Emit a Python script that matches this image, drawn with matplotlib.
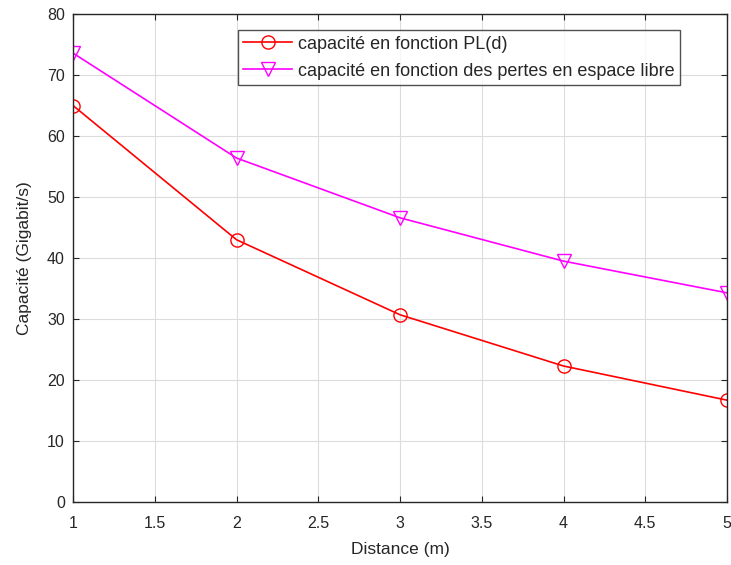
import matplotlib
matplotlib.use("Agg")
import matplotlib.pyplot as plt

distance = [1, 2, 3, 4, 5]
cap_pld = [65.0, 43.0, 30.7, 22.3, 16.7]
cap_libre = [73.6, 56.4, 46.6, 39.5, 34.3]
label_pld = "capacité en fonction PL(d)"
label_libre = "capacité en fonction des pertes en espace libre"
xticks = [1, 1.5, 2, 2.5, 3, 3.5, 4, 4.5, 5]
yticks = [0, 10, 20, 30, 40, 50, 60, 70, 80]

plt.rcParams['font.family'] = ['Liberation Sans', 'DejaVu Sans']
fig = plt.figure(figsize=(7.31, 5.65), dpi=100)
ax = fig.add_axes([0.1, 0.1115, 0.8945, 0.8635])

ax.plot(distance, cap_pld, color='#ff0000', marker='o', markersize=9.5,
        markerfacecolor='none', markeredgewidth=1.0, linewidth=1.2, label=label_pld)
ax.plot(distance, cap_libre, color='#ff00ff', marker='v', markersize=10,
        markerfacecolor='none', markeredgewidth=1.0, linewidth=1.2, label=label_libre)

ax.set_xlim(1, 5)
ax.set_ylim(0, 80)
ax.set_xticks(xticks)
ax.set_xticklabels([f"{t:g}" for t in xticks])
ax.set_yticks(yticks)
ax.grid(True, color='#dcdcdc', linewidth=0.8)
ax.set_axisbelow(True)
ax.tick_params(axis='both', direction='in', length=4, colors='#262626', labelsize=11.5,
               top=True, right=True, labelcolor='#262626')
ax.tick_params(axis='x', pad=10)
ax.tick_params(axis='y', pad=6)
for s in ax.spines.values():
    s.set_color('#262626')
    s.set_linewidth(1.0)

ax.set_xlabel("Distance (m)", fontsize=12.5, color='#262626', labelpad=8)
ax.set_ylabel("Capacité (Gigabit/s)", fontsize=12.5, color='#262626', labelpad=11)

leg = ax.legend(loc='upper left', bbox_to_anchor=(0.252, 0.967), fontsize=13,
                frameon=True, fancybox=False, edgecolor='#262626',
                borderpad=0.3, labelspacing=0.55, handlelength=2.7,
                handletextpad=0.35, borderaxespad=0)
leg.get_frame().set_linewidth(1.0)
for t in leg.get_texts():
    t.set_color('#262626')

fig.savefig("out.png", dpi=100)
